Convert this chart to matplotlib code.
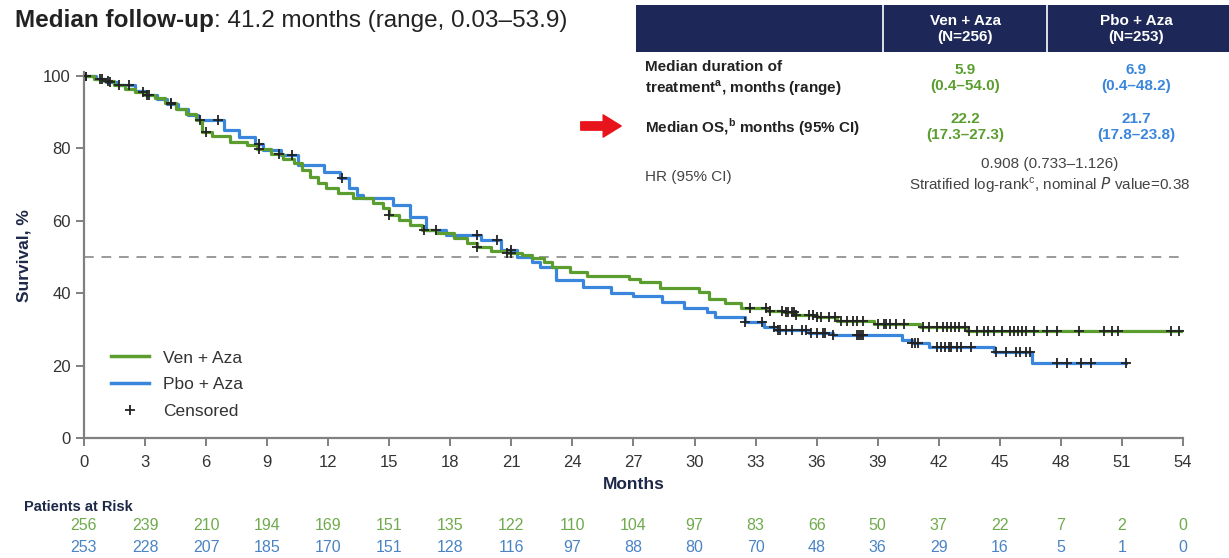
import numpy as np
import matplotlib
matplotlib.use("Agg")
import matplotlib.pyplot as plt
from matplotlib import transforms
from matplotlib.lines import Line2D
from matplotlib.patches import Rectangle, FancyArrowPatch

plt.rcParams['font.family'] = ['Liberation Sans', 'DejaVu Sans']

GREEN = '#5b9e2f'
BLUE = '#3a86dc'
GREEN_TXT = '#6faa4c'
BLUE_TXT = '#4a84c4'
NAVY = '#1e2858'

# Kaplan-Meier step points (month, survival %)
ven_t = [0, 0.5, 1.0, 1.5, 2.0, 2.5, 3.0, 3.5, 4.0, 4.5, 5.0, 5.5, 5.8, 6.3, 7.2,
         8.0, 8.5, 9.2, 9.8, 10.3, 10.7, 11.1, 11.5, 11.9, 12.5, 13.2, 14.2, 14.7,
         15.0, 15.5, 16.0, 16.6, 17.3, 18.2, 18.8, 19.3, 20.0, 20.8, 21.5, 22.0,
         22.6, 23.0, 23.9, 24.7, 26.8, 27.3, 28.3, 30.2, 30.7, 31.5, 32.3, 33.6,
         34.4, 35.0, 36.0, 37.0, 38.8, 41.1, 43.4, 54.0]
ven_s = [100, 99.3, 98.6, 97.5, 96.5, 95.6, 94.8, 93.8, 92.5, 91.0, 89.5, 87.8, 84.6,
         83.4, 81.9, 81.0, 79.8, 78.5, 77.0, 75.9, 74.0, 72.2, 70.5, 69.0, 67.6,
         66.3, 65.0, 63.5, 61.6, 60.3, 58.8, 57.5, 56.6, 55.2, 54.0, 52.8, 51.7,
         51.2, 50.5, 49.7, 48.5, 47.3, 45.9, 44.8, 43.9, 43.2, 41.5, 40.4, 38.4,
         37.2, 35.9, 35.2, 34.8, 34.0, 33.4, 32.2, 31.6, 30.6, 29.6, 29.6]

pbo_t = [0, 0.6, 1.1, 1.6, 2.5, 3.0, 3.6, 4.1, 4.6, 5.1, 5.6, 6.9, 7.6, 8.4, 8.8,
         9.7, 10.5, 11.8, 12.6, 13.0, 13.4, 13.7, 15.2, 16.0, 16.8, 17.8, 19.5,
         20.5, 21.3, 22.0, 22.4, 23.2, 24.5, 25.9, 27.0, 28.4, 29.5, 30.6, 31.0,
         32.5, 33.4, 34.0, 35.6, 36.8, 40.2, 40.7, 41.5, 44.7, 46.6, 51.2]
pbo_s = [100, 99.3, 98.4, 97.5, 95.8, 94.8, 93.6, 92.2, 90.8, 89.3, 87.8, 85.0, 83.2,
         81.2, 79.6, 78.2, 75.4, 73.6, 71.8, 69.0, 67.1, 66.3, 64.4, 61.1, 57.5,
         56.1, 54.7, 52.0, 50.1, 48.5, 47.2, 43.6, 41.7, 40.1, 39.1, 37.7, 35.9,
         34.9, 33.5, 32.1, 30.7, 29.8, 28.9, 28.5, 27.1, 26.2, 25.2, 23.8, 20.7, 20.7]

# censoring times (months)
ven_cens = [0.1, 0.9, 1.2, 1.7, 2.9, 3.1, 4.3, 6.0, 8.6, 9.6, 15.0, 16.7, 19.3,
            20.8, 21.0, 32.7, 33.5, 33.7, 34.3, 34.5, 34.6, 34.8, 34.9, 35.0, 35.6,
            35.8, 36.0, 36.2, 36.6, 36.9, 37.2, 37.5, 37.8, 38.0, 38.3, 39.0, 39.3,
            39.4, 39.6, 39.9, 40.3, 41.2, 41.5, 41.9, 42.2, 42.4, 42.6, 42.8, 43.0,
            43.3, 43.5, 43.9, 44.2, 44.4, 44.7, 45.1, 45.5, 45.7, 45.9, 46.1, 46.3,
            46.7, 47.3, 47.8, 48.9, 50.1, 50.5, 50.8, 53.4, 53.8]
pbo_cens = [0.1, 0.8, 1.3, 2.2, 3.2, 4.3, 5.7, 6.6, 8.6, 10.2, 12.7, 17.3, 19.3,
            20.3, 21.0, 32.5, 33.3, 33.9, 34.1, 34.2, 34.5, 34.8, 35.3, 35.5, 35.7,
            36.0, 36.3, 36.4, 36.8, 38.0, 38.1, 38.2, 38.3, 40.7, 40.85, 41.0, 41.9,
            42.1, 42.3, 42.5, 42.6, 42.9, 43.1, 43.6, 44.8, 45.3, 45.8, 46.0, 46.3,
            46.5, 47.8, 48.3, 49.0, 49.5, 51.2]

risk_months = list(range(0, 55, 3))
ven_risk = [256, 239, 210, 194, 169, 151, 135, 122, 110, 104, 97, 83, 66, 50, 37, 22, 7, 2, 0]
pbo_risk = [253, 228, 207, 185, 170, 151, 128, 116, 97, 88, 80, 70, 48, 36, 29, 16, 5, 1, 0]


def surv_at(times, surv, t):
    idx = np.searchsorted(times, t, side='right') - 1
    return np.asarray(surv)[idx]


def fx(px):
    return px / 1229


def fy(py):
    return 1 - py / 558


fig = plt.figure(figsize=(12.29, 5.58), dpi=100)
ax = fig.add_axes([0.0683, 0.2151, 0.8943, 0.6487 * 1.01])

ax.step(ven_t, ven_s, where='post', color=GREEN, lw=2.3, zorder=3)
ax.step(pbo_t, pbo_s, where='post', color=BLUE, lw=2.3, zorder=2)
ax.plot(ven_cens, surv_at(ven_t, ven_s, ven_cens), ls='none', marker='+',
        ms=7, mew=1.3, color='#222222', zorder=4)
ax.plot(pbo_cens, surv_at(pbo_t, pbo_s, pbo_cens), ls='none', marker='+',
        ms=7, mew=1.3, color='#222222', zorder=4)
ax.axhline(50, color='#9a9a9a', lw=1.4, ls=(0, (5, 4)), zorder=1)

ax.set_xlim(0, 54)
ax.set_ylim(0, 101)
ax.set_xticks(range(0, 55, 3))
ax.set_yticks(range(0, 101, 20))
for side in ['top', 'right']:
    ax.spines[side].set_visible(False)
for side in ['left', 'bottom']:
    ax.spines[side].set_color('#808080')
    ax.spines[side].set_linewidth(1.6)
ax.tick_params(colors='#808080', width=1.4, length=6, labelsize=12,
               labelcolor='#333333')
ax.tick_params(axis='x', pad=6)
ax.set_xlabel('Months', fontsize=12.5, fontweight='bold', color='#1e2848', labelpad=5)
ax.set_ylabel('Survival, %', fontsize=12.5, fontweight='bold', color='#1e2848', labelpad=8)

handles = [Line2D([], [], color=GREEN, lw=2.5),
           Line2D([], [], color=BLUE, lw=2.5),
           Line2D([], [], color='#222222', ls='none', marker='+', ms=7, mew=1.3)]
ax.legend(handles, ['Ven + Aza', 'Pbo + Aza', 'Censored'], loc='lower left',
          bbox_to_anchor=(0.01, 0.008), frameon=False, fontsize=12.5,
          handlelength=2.2, labelspacing=0.68, labelcolor='#333333')

# patients at risk rows
trans = transforms.blended_transform_factory(ax.transData, fig.transFigure)
fig.text(fx(24), fy(507), 'Patients at Risk', fontsize=10.5,
         fontweight='bold', color='#1e2848', va='center')
for m, a, b in zip(risk_months, ven_risk, pbo_risk):
    ax.text(m, fy(525), str(a), transform=trans, ha='center', va='center',
            fontsize=11.5, color=GREEN_TXT, clip_on=False)
    ax.text(m, fy(547), str(b), transform=trans, ha='center', va='center',
            fontsize=11.5, color=BLUE_TXT, clip_on=False)

# title: bold lead-in followed by regular text
t1 = fig.text(fx(15), fy(21), 'Median follow-up', fontsize=17.5, fontweight='bold',
              color='#222222', va='center')
renderer = fig.canvas.get_renderer()
bb = t1.get_window_extent(renderer)
fig.text(bb.x1 / fig.bbox.width, fy(21), ': 41.2 months (range, 0.03\u201353.9)',
         fontsize=17.5, color='#222222', va='center')

# summary table
fig.add_artist(Rectangle((fx(636), fy(205)), 593 / 1229, 200 / 558,
                         transform=fig.transFigure, facecolor='white', edgecolor='none',
                         zorder=5))
fig.add_artist(Rectangle((fx(636), fy(52)), 593 / 1229, 47 / 558,
                         transform=fig.transFigure, facecolor=NAVY, edgecolor='none',
                         zorder=6))
for xp in [883, 1047]:
    fig.add_artist(Line2D([fx(xp), fx(xp)], [fy(52), fy(5)],
                          transform=fig.transFigure, color='white', lw=1.2, zorder=7))

kw = dict(ha='center', va='center', fontsize=11, fontweight='bold', zorder=8,
          linespacing=1.25)
fig.text(fx(965), fy(29), 'Ven + Aza\n(N=256)', color='white', **kw)
fig.text(fx(1136), fy(29), 'Pbo + Aza\n(N=253)', color='white', **kw)
fig.text(fx(965), fy(78), '5.9\n(0.4\u201354.0)', color=GREEN, **kw)
fig.text(fx(1136), fy(78), '6.9\n(0.4\u201348.2)', color=BLUE, **kw)
fig.text(fx(965), fy(127), '22.2\n(17.3\u201327.3)', color=GREEN, **kw)
fig.text(fx(1136), fy(127), '21.7\n(17.8\u201323.8)', color=BLUE, **kw)

lkw = dict(ha='left', va='center', fontsize=11, zorder=8, color='#222222',
           linespacing=1.3)
fig.text(fx(645), fy(79), 'Median duration of\ntreatment$^{\\mathregular{a}}$, months (range)',
         fontweight='bold', **lkw)
fig.text(fx(645), fy(127), 'Median OS,$^{\\mathregular{b}}$ months (95% CI)',
         fontweight='bold', **lkw)
fig.text(fx(645), fy(177), 'HR (95% CI)', **{**lkw, 'color': '#444444'})
fig.text(fx(1050), fy(176),
         '0.908 (0.733\u20131.126)\nStratified log-rank$^{\\mathregular{c}}$, nominal $\\mathit{P}$ value=0.38',
         ha='center', va='center', fontsize=11, color='#444444', zorder=8,
         linespacing=1.35)

# red pointer
fig.add_artist(FancyArrowPatch((fx(578), fy(126)), (fx(624), fy(126)),
                               transform=fig.transFigure,
                               arrowstyle='simple,head_width=1.6,head_length=1.3,tail_width=0.6',
                               mutation_scale=10, color='#e8141b', zorder=8))

fig.savefig('out.png', dpi=100)
